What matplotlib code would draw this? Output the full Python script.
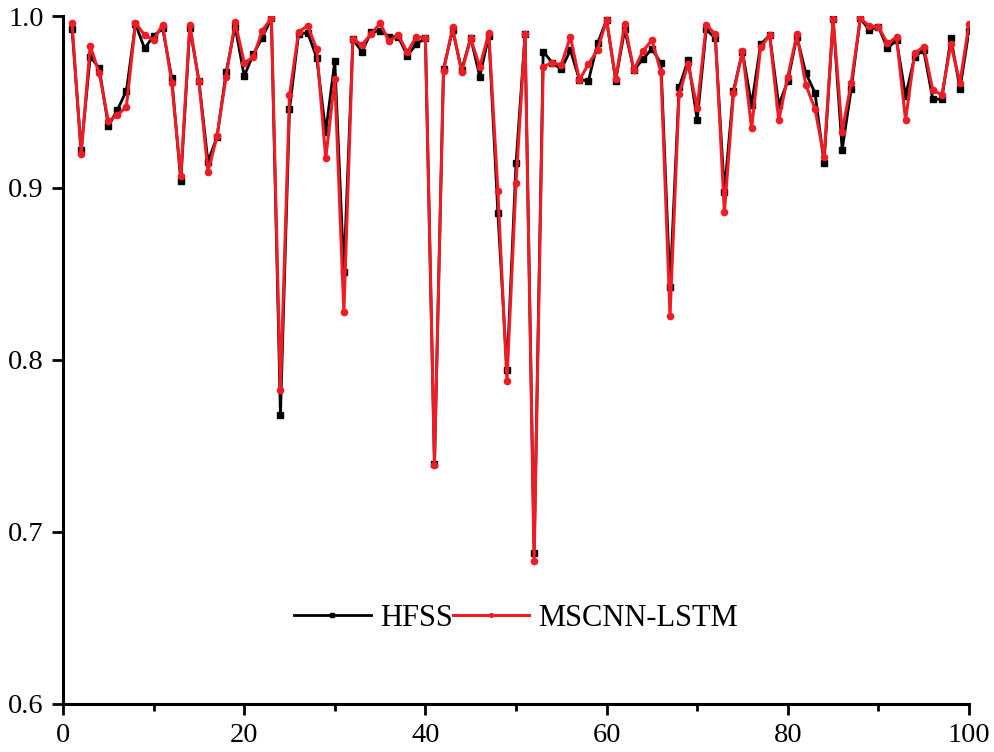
import numpy as np
import matplotlib
matplotlib.use("Agg")
import matplotlib.pyplot as plt
from matplotlib.ticker import MultipleLocator, FormatStrFormatter

x = list(range(1, 101))

hfss = [
    0.9924, 0.9220, 0.9764, 0.9696, 0.9360, 0.9453, 0.9566, 0.9953, 0.9812, 0.9884,
    0.9928, 0.9641, 0.9040, 0.9932, 0.9624, 0.9153, 0.9298, 0.9672, 0.9938, 0.9651,
    0.9777, 0.9874, 0.9988, 0.7678, 0.9457, 0.9895, 0.9903, 0.9758, 0.9327, 0.9738,
    0.8513, 0.9864, 0.9793, 0.9905, 0.9915, 0.9880, 0.9880, 0.9770, 0.9835, 0.9874,
    0.7395, 0.9694, 0.9918, 0.9686, 0.9874, 0.9647, 0.9886, 0.8853, 0.7940, 0.9143,
    0.9893, 0.6876, 0.9793, 0.9729, 0.9690, 0.9802, 0.9628, 0.9624, 0.9841, 0.9977,
    0.9624, 0.9922, 0.9686, 0.9748, 0.9810, 0.9725, 0.8426, 0.9585, 0.9744, 0.9395,
    0.9922, 0.9870, 0.8979, 0.9566, 0.9793, 0.9483, 0.9835, 0.9888, 0.9483, 0.9622,
    0.9880, 0.9667, 0.9554, 0.9143, 0.9983, 0.9221, 0.9576, 0.9986, 0.9919, 0.9938,
    0.9812, 0.9860, 0.9535, 0.9764, 0.9802, 0.9516, 0.9516, 0.9874, 0.9576, 0.9915,
]

mscnn_lstm = [
    0.9960, 0.9196, 0.9827, 0.9667, 0.9390, 0.9423, 0.9473, 0.9960, 0.9890, 0.9860,
    0.9950, 0.9609, 0.9072, 0.9950, 0.9620, 0.9095, 0.9300, 0.9647, 0.9965, 0.9729,
    0.9760, 0.9915, 0.9988, 0.7826, 0.9539, 0.9907, 0.9944, 0.9808, 0.9172, 0.9634,
    0.8277, 0.9864, 0.9833, 0.9895, 0.9957, 0.9853, 0.9890, 0.9789, 0.9880, 0.9874,
    0.7391, 0.9680, 0.9934, 0.9672, 0.9870, 0.9705, 0.9900, 0.8980, 0.7880, 0.9029,
    0.9893, 0.6833, 0.9705, 0.9729, 0.9715, 0.9880, 0.9628, 0.9721, 0.9802, 0.9977,
    0.9634, 0.9953, 0.9686, 0.9795, 0.9860, 0.9674, 0.8258, 0.9545, 0.9721, 0.9465,
    0.9948, 0.9895, 0.8859, 0.9550, 0.9798, 0.9347, 0.9818, 0.9888, 0.9395, 0.9647,
    0.9893, 0.9597, 0.9461, 0.9178, 0.9983, 0.9327, 0.9612, 0.9986, 0.9942, 0.9938,
    0.9841, 0.9876, 0.9395, 0.9783, 0.9822, 0.9570, 0.9541, 0.9835, 0.9612, 0.9953,
]

labels = ["HFSS", "MSCNN-LSTM"]

plt.rcParams['font.family'] = ['Liberation Serif', 'DejaVu Serif']

fig = plt.figure(figsize=(9.95, 7.52), dpi=100)
ax = fig.add_axes([63/995, (752-704)/752, (969-63)/995, (704-16)/752])

ax.plot(x, hfss, color='black', lw=2.0, marker='s', ms=4.5, label=labels[0], zorder=2)
ax.plot(x, mscnn_lstm, color='#ee1c25', lw=2.2, marker='o', ms=4.5, label=labels[1], zorder=3)

ax.set_xlim(0, 100)
ax.set_ylim(0.6, 1.0)
ax.xaxis.set_major_locator(MultipleLocator(20))
ax.xaxis.set_minor_locator(MultipleLocator(10))
ax.yaxis.set_major_locator(MultipleLocator(0.1))
ax.yaxis.set_major_formatter(FormatStrFormatter('%.1f'))

for s in ['top', 'right']:
    ax.spines[s].set_visible(False)
for s in ['left', 'bottom']:
    ax.spines[s].set_linewidth(2.2)

ax.tick_params(axis='both', which='major', direction='out', length=8, width=2, labelsize=20.5, pad=6)
ax.tick_params(axis='x', which='minor', direction='out', length=5, width=2)

leg = ax.legend(loc='center', bbox_to_anchor=(0.5, 0.125), ncol=2, frameon=False,
                fontsize=22, handlelength=2.5, handletextpad=0.3, columnspacing=0.0,
                markerscale=0.6)

fig.savefig('out.png', dpi=100)
